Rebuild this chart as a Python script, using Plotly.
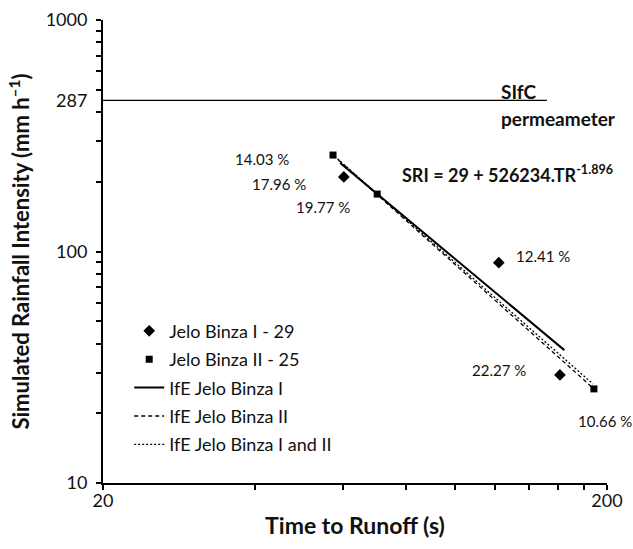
import math
import plotly.graph_objects as go

# ---- data ----
binza1_tr = [60.1, 122.0, 161.3]
binza1_sri = [210, 89.5, 29.3]
binza1_labels = ["17.96 %", "12.41 %", "22.27 %"]

binza2_tr = [57.2, 70.0, 188.4]
binza2_sri = [261, 177, 25.5]
binza2_labels = ["14.03 %", "19.77 %", "10.66 %"]

ife1_tr = [59.1, 164.6]
ife1_sri = [241, 37.5]
ife2_tr = [57.2, 188.4]
ife2_sri = [261, 25.5]
ife12_tr = [57.6, 187.5]
ife12_sri = [258, 26.8]

perm_tr = [20, 152]
perm_sri = [450, 450]

y_tick_vals = [10, 100, 450, 1000]
y_tick_text = ["10", "100", "287", "1000"]
y_minor_vals = [10, 20, 30, 40, 50, 60, 70, 80, 90, 100, 200, 300, 400, 500, 600, 700, 800, 900, 1000]
x_tick_vals = [20, 200]
x_tick_text = ["20", "200"]
x_minor_vals = [20, 40, 60, 80, 100, 120, 140, 160, 180, 200]

# label offsets (pixels) relative to their points
binza1_offsets = [(-65, -7), (44, 7), (-61, 5)]
binza2_offsets = [(-71, -4), (-54, -13), (11, -32)]

FONT = "Lato"
TXT = "#111"

fig = go.Figure()

fig.add_trace(go.Scatter(x=perm_tr, y=perm_sri, mode="lines",
                         line=dict(color="black", width=1.3), showlegend=False, hoverinfo="skip"))

fig.add_trace(go.Scatter(x=binza1_tr, y=binza1_sri, mode="markers", name="Jelo Binza I - 29",
                         marker=dict(symbol="diamond", size=9, color="black"), legendgroup="a"))
fig.add_trace(go.Scatter(x=binza2_tr, y=binza2_sri, mode="markers", name="Jelo Binza II - 25",
                         marker=dict(symbol="square", size=7, color="black"), legendgroup="b"))
fig.add_trace(go.Scatter(x=ife1_tr, y=ife1_sri, mode="lines", name="IfE Jelo Binza I",
                         line=dict(color="black", width=2), legendgroup="c"))
fig.add_trace(go.Scatter(x=ife2_tr, y=ife2_sri, mode="lines", name="IfE Jelo Binza II",
                         line=dict(color="black", width=1.3, dash="4px,3px"), legendgroup="d"))
fig.add_trace(go.Scatter(x=ife12_tr, y=ife12_sri, mode="lines", name="IfE Jelo Binza I and II",
                         line=dict(color="black", width=1.3, dash="2px,2px"), legendgroup="e"))

# annotations on log axes are positioned in log10 units
for xs, ys, labs, offs in [(binza1_tr, binza1_sri, binza1_labels, binza1_offsets),
                           (binza2_tr, binza2_sri, binza2_labels, binza2_offsets)]:
    for xv, yv, lab, (dx, dy) in zip(xs, ys, labs, offs):
        fig.add_annotation(x=math.log10(xv), y=math.log10(yv), xref="x", yref="y", text=lab,
                           showarrow=False, xanchor="center", yanchor="middle", xshift=dx, yshift=dy,
                           font=dict(family=FONT, size=15, color=TXT))

fig.add_annotation(x=0.589, y=0.667, xref="paper", yref="paper", xanchor="left", yanchor="middle",
                   text="<b>SRI = 29 + 526234.TR<sup>-1.896</sup></b>", showarrow=False,
                   font=dict(family=FONT, size=18, color=TXT))
fig.add_annotation(x=0.786, y=0.845, xref="paper", yref="paper", xanchor="left", yanchor="middle",
                   text="<b>SIfC</b>", showarrow=False, font=dict(family=FONT, size=19, color=TXT))
fig.add_annotation(x=0.786, y=0.788, xref="paper", yref="paper", xanchor="left", yanchor="middle",
                   text="<b>permeameter</b>", showarrow=False, font=dict(family=FONT, size=19, color=TXT))

axis_common = dict(showline=True, linecolor="black", linewidth=2, showgrid=False, zeroline=False,
                   ticks="", automargin=False, tickfont=dict(family=FONT, size=18, color=TXT))

fig.update_xaxes(type="log", range=[1.30103, 2.30103], tickvals=x_tick_vals, ticktext=x_tick_text,
                 minor=dict(ticks="outside", tickvals=x_minor_vals, ticklen=5, tickwidth=2, tickcolor="black"),
                 ticklabelstandoff=0,
                 title=dict(text="<b>Time to Runoff (s)</b>", font=dict(family=FONT, size=23, color=TXT), standoff=8),
                 **axis_common)
fig.update_yaxes(type="log", range=[1, 3], tickvals=y_tick_vals, ticktext=y_tick_text,
                 minor=dict(ticks="outside", tickvals=y_minor_vals, ticklen=5, tickwidth=2, tickcolor="black"),
                 ticklabelstandoff=10,
                 title=dict(text="<b>Simulated Rainfall Intensity (mm h<sup>–1</sup>)</b>",
                            font=dict(family=FONT, size=22, color=TXT), standoff=10),
                 **axis_common)

fig.update_layout(
    width=633, height=549,
    margin=dict(l=103, r=26, t=20, b=66),
    paper_bgcolor="white", plot_bgcolor="white",
    legend=dict(x=0.052, y=0.368, xanchor="left", yanchor="top", bgcolor="rgba(0,0,0,0)",
                font=dict(family=FONT, size=18, color=TXT), tracegroupgap=2),
)

fig.write_html("out.html")
